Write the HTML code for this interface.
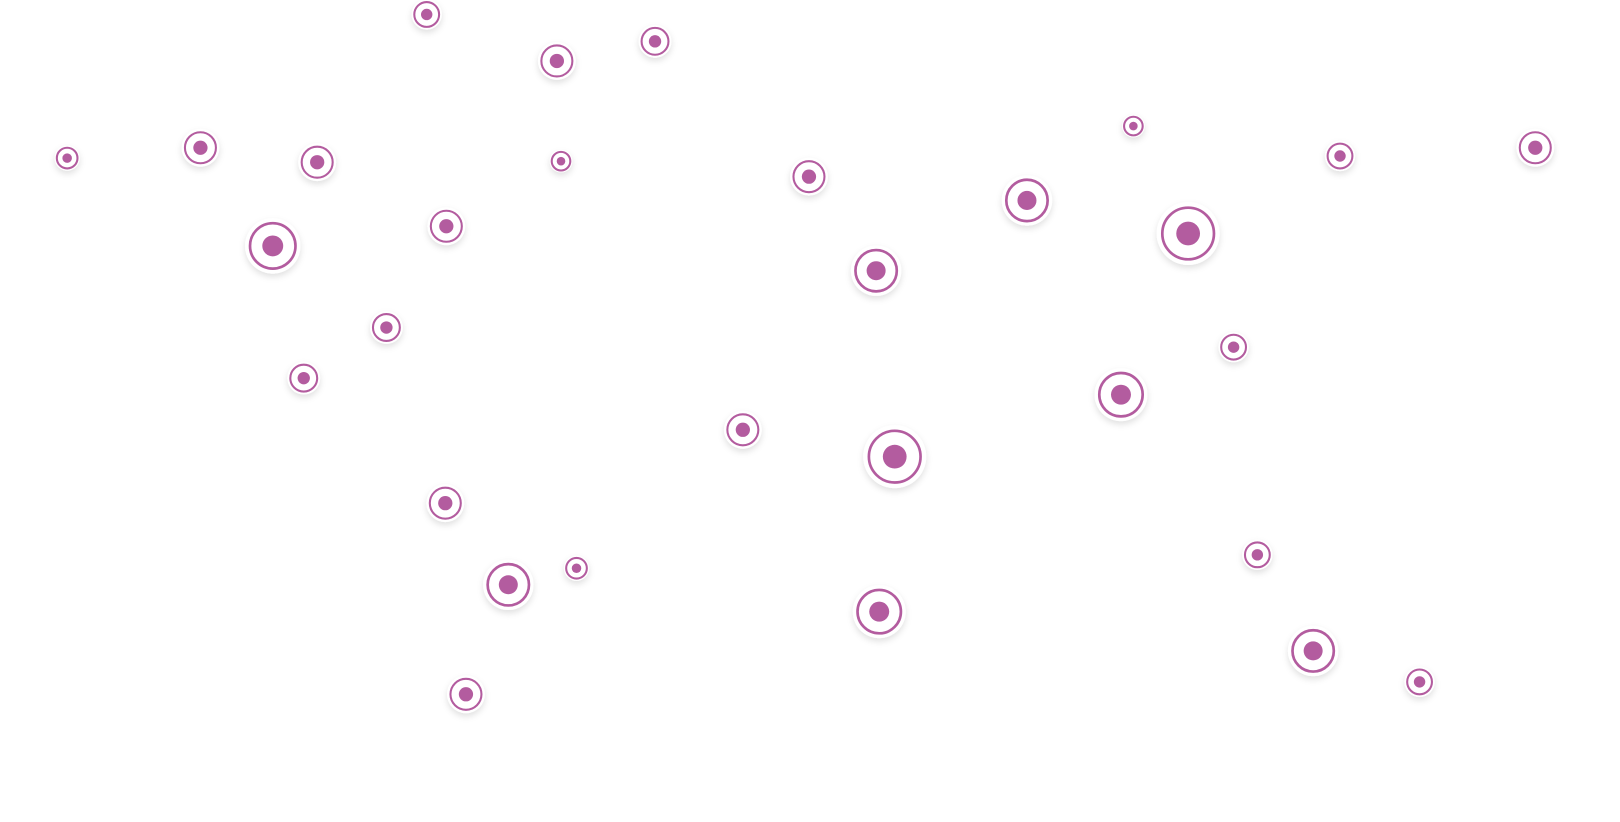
<!DOCTYPE html>
<html><head><meta charset="utf-8"><style>html,body{margin:0;padding:0;background:#fff;overflow:hidden}svg{display:block}</style></head>
<body>
<svg width="1620" height="822" viewBox="0 0 1568 795.6" xmlns="http://www.w3.org/2000/svg">
<defs><filter id="s" x="-50%" y="-50%" width="200%" height="200%"><feDropShadow dx="0" dy="3" stdDeviation="3" flood-color="#000" flood-opacity="0.12"/></filter></defs>
<g id="g"></g>
</svg>
<script>
var n=[[413,14,12],[539,59,15],[634,40,13],[65,153,10],[194,143,15],[307,157,15],[543,156,9],[264,238,22],[432,219,15],[374,317,13],[294,366,13],[783,171,15],[848,262,20],[994,194,20],[1097,122,9],[1150,226,25],[1297,151,12],[1486,143,15],[1194,336,12],[1085,382,21],[719,416,15],[866,442,25],[431,487,15],[492,566,20],[558,550,10],[851,592,21],[1217,537,12],[1271,630,20],[1374,660,12],[451,672,15]];
var h='';n.forEach(function(a){var x=a[0],y=a[1],r=a[2];
h+='<circle cx="'+x+'" cy="'+y+'" r="'+(r*1.22)+'" fill="#fff" filter="url(#s)"/>';
h+='<circle cx="'+x+'" cy="'+y+'" r="'+r+'" fill="#fff" stroke="#b35c9f" stroke-width="'+(r>18?2.6:2)+'"/>';
h+='<circle cx="'+x+'" cy="'+y+'" r="'+(r*0.46)+'" fill="#b35c9f"/>';});
document.getElementById('g').innerHTML=h;
</script>
</body></html>
